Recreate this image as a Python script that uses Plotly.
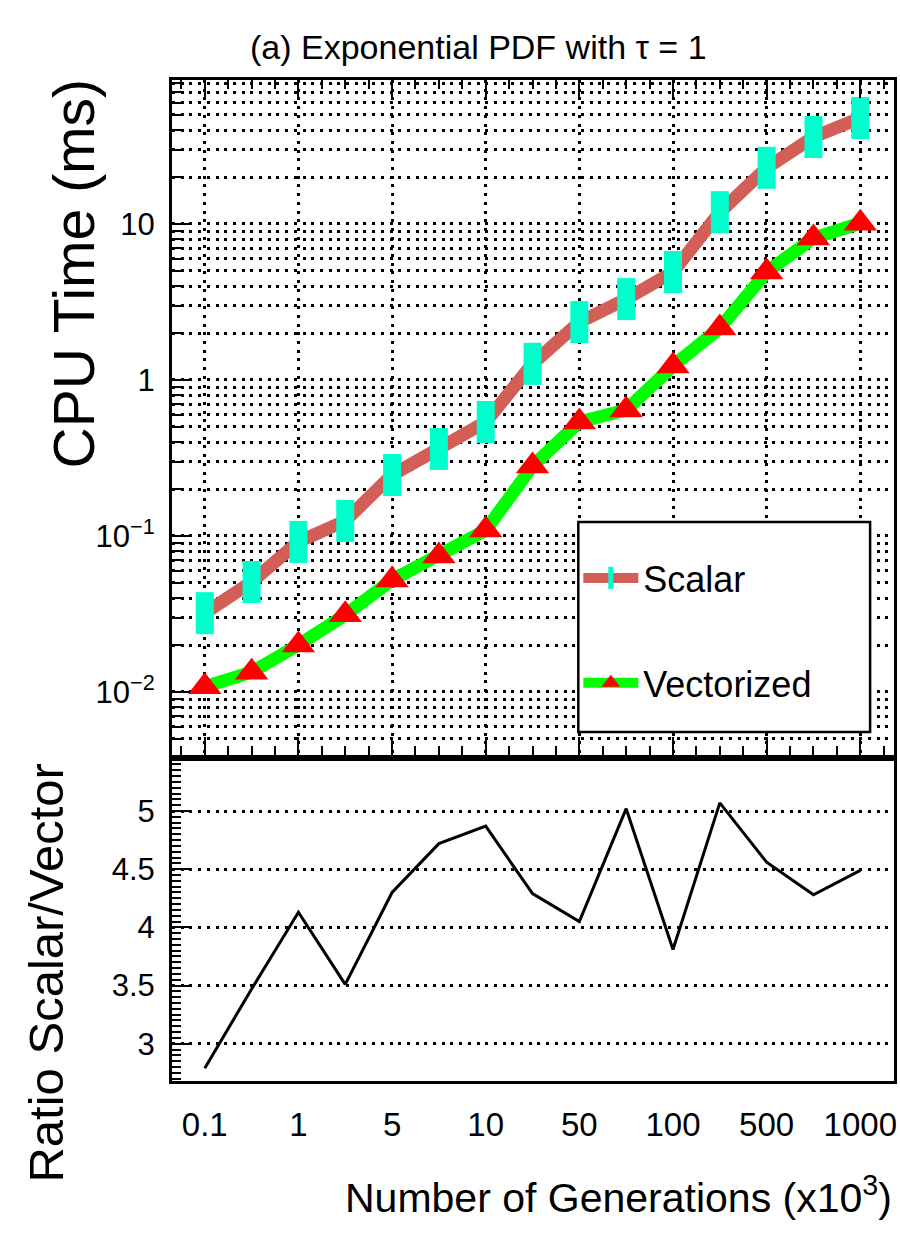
import numpy as np
import plotly.graph_objects as go

# ---------------- data ----------------
generations = [0.1, 0.5, 1, 2.5, 5, 7.5, 10, 25, 50, 75, 100, 250, 500, 750, 1000]  # x10^3
tick_labels = ["0.1", "1", "5", "10", "50", "100", "500", "1000"]
scalar_ms = [0.032, 0.0507, 0.0916, 0.125, 0.246, 0.361, 0.538, 1.27, 2.35, 3.3,
             4.92, 11.9, 22.9, 36.1, 47.8]
vector_ms = [0.0108, 0.0134, 0.020, 0.0312, 0.0522, 0.0745, 0.109, 0.281, 0.538, 0.642,
             1.23, 2.15, 4.92, 8.13, 10.1]
ratio = [2.79, 3.47, 4.13, 3.51, 4.30, 4.72, 4.87, 4.29, 4.05, 5.02,
         3.81, 5.07, 4.56, 4.28, 4.49]
ratio_ticks = [3, 3.5, 4, 4.5, 5]

pos = list(range(len(generations)))
tick_pos = pos[::2]

FONT = "Liberation Sans, Arial, Helvetica, sans-serif"

fig = go.Figure()

fig.add_trace(go.Scatter(
    x=pos, y=scalar_ms, name="Scalar", mode="lines+markers",
    line=dict(color="#D35D57", width=13),
    marker=dict(symbol="line-ns", size=30, color="#00FFCC",
                line=dict(color="#00FFCC", width=18)),
    xaxis="x", yaxis="y", legendgroup="a"))
fig.add_trace(go.Scatter(
    x=pos, y=vector_ms, name="Vectorized", mode="lines+markers",
    line=dict(color="#00FF00", width=13),
    marker=dict(symbol="triangle-up", size=29, color="#FF0000"),
    xaxis="x", yaxis="y", legendgroup="b"))
fig.add_trace(go.Scatter(
    x=pos, y=ratio, mode="lines", showlegend=False,
    line=dict(color="black", width=3),
    xaxis="x2", yaxis="y2"))

dash = "3px,5.7px"
decades = [0.01, 0.1, 1, 10]
minor_vals = [m * d for d in [0.001] + decades for m in range(2, 10)]

# pixel helpers for paper coordinates (plot area 172..897 x 80..1081)
def px(x):
    return (x - 172) / 725

def py(y):
    return (1081 - y) / 1001

xr = [-0.70, 14.72]
fig.update_layout(
    width=900, height=1239,
    margin=dict(l=172, r=3, t=80, b=158),
    plot_bgcolor="white", paper_bgcolor="white",
    showlegend=True,
    legend=dict(x=px(580), y=py(522), xanchor="left", yanchor="top",
                bgcolor="rgba(255,255,255,0)", borderwidth=0,
                font=dict(family=FONT, size=36, color="black"),
                title=dict(text=" ", font=dict(family=FONT, size=20)),
                tracegroupgap=55, traceorder="grouped",
                itemwidth=55),
    xaxis=dict(domain=[0, 1], range=xr, anchor="y",
               tickmode="array", tickvals=tick_pos, showticklabels=False,
               ticks="inside", ticklen=18, tickwidth=2, tickcolor="black",
               minor=dict(tickmode="linear", tick0=0, dtick=0.5, ticks="inside",
                          ticklen=9, tickwidth=2, tickcolor="black", showgrid=False),
               showgrid=True, gridcolor="black", gridwidth=2.5, griddash=dash,
               showline=True, linecolor="black", linewidth=3, mirror="ticks",
               zeroline=False),
    yaxis=dict(domain=[0.3257, 1], type="log", range=[-2.404, 1.923], anchor="x",
               tickmode="array", tickvals=decades,
               ticktext=["10<sup>\u22122</sup>", "10<sup>\u22121</sup>", "1", "10"],
               tickfont=dict(family=FONT, size=31, color="black"),
               ticks="inside", ticklen=18, tickwidth=2, tickcolor="black",
               ticklabelstandoff=8,
               minor=dict(tickmode="array", tickvals=minor_vals, ticks="inside",
                          ticklen=9, tickwidth=2, tickcolor="black",
                          showgrid=True, gridcolor="black", gridwidth=2.5, griddash=dash),
               showgrid=True, gridcolor="black", gridwidth=2.5, griddash=dash,
               showline=True, linecolor="black", linewidth=3, mirror=True,
               zeroline=False),
    xaxis2=dict(domain=[0, 1], range=xr, anchor="y2",
                tickmode="array", tickvals=tick_pos, ticktext=tick_labels,
                tickfont=dict(family=FONT, size=33, color="black"),
                ticks="", ticklabelstandoff=12,
                showgrid=False, showline=True, linecolor="black", linewidth=3,
                mirror=True, zeroline=False),
    yaxis2=dict(domain=[0, 0.3197], range=[2.68, 5.43], anchor="x2",
                tickmode="array", tickvals=ratio_ticks,
                ticktext=[f"{v:g}" for v in ratio_ticks],
                tickfont=dict(family=FONT, size=31, color="black"),
                ticks="inside", ticklen=20, tickwidth=2, tickcolor="black",
                ticklabelstandoff=8,
                minor=dict(tickmode="linear", tick0=0, dtick=0.05, ticks="inside",
                           ticklen=9, tickwidth=2, tickcolor="black", showgrid=False),
                showgrid=True, gridcolor="black", gridwidth=2.5, griddash=dash,
                showline=True, linecolor="black", linewidth=3, mirror=True,
                zeroline=False),
)

# legend frame
fig.add_shape(type="rect", xref="paper", yref="paper",
              x0=px(580), x1=px(873), y0=py(732), y1=py(522),
              line=dict(color="black", width=2.5), fillcolor="white", layer="above")
# thin gray separation between the two pads
fig.add_shape(type="rect", xref="paper", yref="paper",
              x0=0, x1=1, y0=py(760), y1=py(756),
              line=dict(width=0), fillcolor="#9a9a9a", layer="below")

fig.add_annotation(text="(a) Exponential PDF with \u03c4 = 1", xref="paper", yref="paper",
                   x=px(480), y=py(47), xanchor="center", yanchor="middle",
                   showarrow=False, font=dict(family=FONT, size=34, color="black"))
fig.add_annotation(text="CPU Time (ms)", xref="paper", yref="paper",
                   x=px(74), y=py(274), xanchor="center", yanchor="middle",
                   textangle=-90, showarrow=False, font=dict(family=FONT, size=57, color="black"))
fig.add_annotation(text="Ratio Scalar/Vector", xref="paper", yref="paper",
                   x=px(45), y=py(973), xanchor="center", yanchor="middle",
                   textangle=-90, showarrow=False, font=dict(family=FONT, size=49, color="black"))
fig.add_annotation(text="Number of Generations (x10<sup>3</sup>)", xref="paper", yref="paper",
                   x=1.0, y=py(1195), xanchor="right", yanchor="middle",
                   showarrow=False, font=dict(family=FONT, size=41, color="black"))

fig.write_html("out.html")
